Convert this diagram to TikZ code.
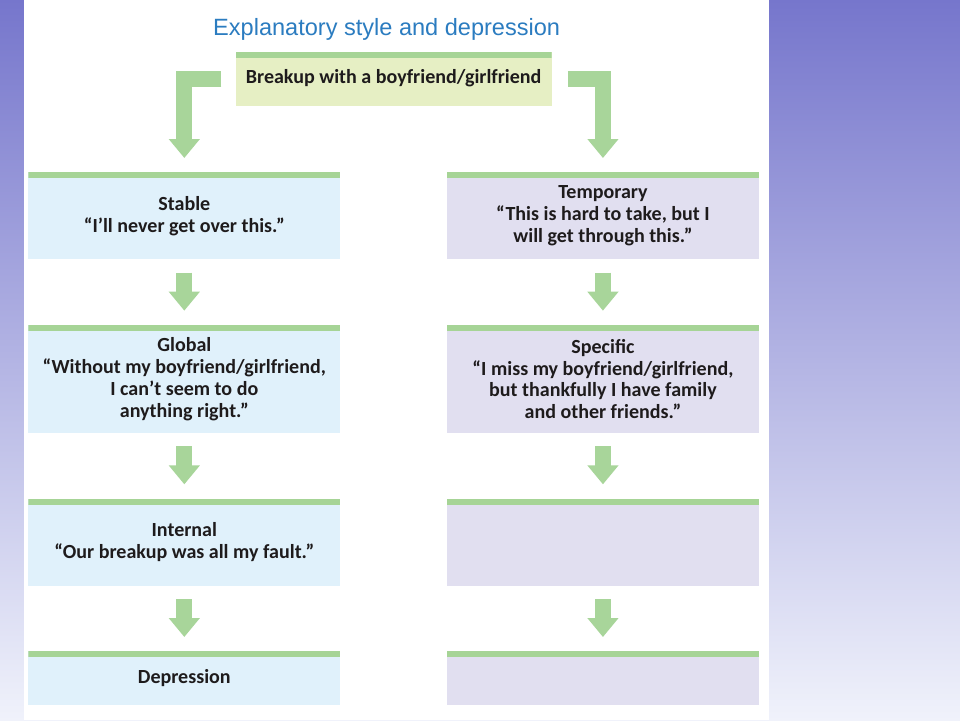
\documentclass[tikz,border=0pt]{standalone}
\usepackage{fontspec}
\setmainfont{Carlito}
\newfontfamily\titlefont{Liberation Sans}
\usepackage{xcolor}
\usepackage{tikz}
\usetikzlibrary{positioning,calc,arrows.meta}
\definecolor{bgtop}{RGB}{118,118,204}
\definecolor{bgbot}{RGB}{240,242,251}
\definecolor{bargreen}{RGB}{166,212,150}
\definecolor{arrowgreen}{RGB}{168,213,154}
\definecolor{stableblue}{RGB}{224,241,251}
\definecolor{templilac}{RGB}{225,223,240}
\definecolor{breakupfill}{RGB}{230,239,196}
\definecolor{titleblue}{RGB}{43,124,192}
\definecolor{inkgray}{RGB}{30,27,28}

\begin{document}
\begin{tikzpicture}[x=0.02cm, y=-0.02cm,
		font=\bfseries\fontsize{11.4}{12.5}\selectfont, text=inkgray,
		node distance=1.3cm and 2.12cm,
		card/.style={minimum width=6.24cm, inner sep=0pt, align=center,
			path picture={\fill[bargreen] (path picture bounding box.north west)
				rectangle ([yshift=-0.12cm]path picture bounding box.north east);}},
		leftcard/.style={card, fill=stableblue},
		rightcard/.style={card, fill=templilac},
		fatarrow/.style={draw=arrowgreen, line width=0.32cm, line join=miter,
			-{Triangle[width=0.6cm, length=0.38cm]}}]
		\useasboundingbox (0,0) rectangle (960,720);
		% slide background
		\shade[top color=bgtop, bottom color=bgbot] (0,0) rectangle (960,720);
		\fill[white] (24,0) rectangle (769,720);
		% left column
		\node[leftcard, minimum height=1.74cm, anchor=north west] (stable) at (28,172)
			{Stable\\“I’ll never get over this.”};
		\node[leftcard, minimum height=2.16cm, below=of stable] (global)
			{Global\\“Without my boyfriend/girlfriend,\\I can’t seem to do\\anything right.”};
		\node[leftcard, minimum height=1.74cm, below=of global] (internal)
			{Internal\\“Our breakup was all my fault.”};
		\node[leftcard, minimum height=1.08cm, below=of internal] (depr) {Depression};
		% right column
		\node[rightcard, minimum height=1.74cm, right=of stable] (temp)
			{Temporary\\“This is hard to take, but I\\will get through this.”};
		\node[rightcard, minimum height=2.16cm, below=of temp] (specific)
			{Specific\\“I miss my boyfriend/girlfriend,\\but thankfully I have family\\and other friends.”};
		\node[rightcard, minimum height=1.74cm, below=of specific] (rthird) {};
		\node[rightcard, minimum height=1.08cm, below=of rthird] (rfourth) {};
		% event and title
		\coordinate (mid) at ($(stable.north)!0.5!(temp.north)$);
		\node[card, fill=breakupfill, minimum width=6.32cm, minimum height=1.08cm,
			above=1.32cm of mid] (breakup) {Breakup with a boyfriend/girlfriend};
		\node[font=\titlefont\fontsize{13.4}{15}\selectfont, text=titleblue, inner sep=0pt,
			above=0.22cm of breakup, xshift=-0.14cm] (title) {Explanatory style and depression};
		% arrows
		\draw[fatarrow] ([xshift=-0.28cm]breakup.west) -| ([yshift=0.28cm]stable.north);
		\draw[fatarrow] ([xshift=0.32cm]breakup.east) -| ([yshift=0.28cm]temp.north);
		\draw[fatarrow] ([yshift=-0.26cm]stable.south) -- ([yshift=0.28cm]global.north);
		\draw[fatarrow] ([yshift=-0.26cm]global.south) -- ([yshift=0.28cm]internal.north);
		\draw[fatarrow] ([yshift=-0.26cm]internal.south) -- ([yshift=0.28cm]depr.north);
		\draw[fatarrow] ([yshift=-0.26cm]temp.south) -- ([yshift=0.28cm]specific.north);
		\draw[fatarrow] ([yshift=-0.26cm]specific.south) -- ([yshift=0.28cm]rthird.north);
		\draw[fatarrow] ([yshift=-0.26cm]rthird.south) -- ([yshift=0.28cm]rfourth.north);
	\end{tikzpicture}
\end{document}
